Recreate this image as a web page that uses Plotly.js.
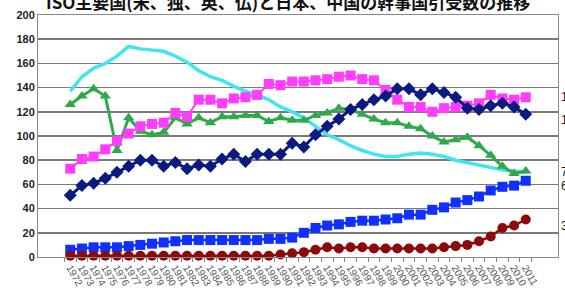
<!DOCTYPE html>
<html><head><meta charset="utf-8">
<script src="https://cdn.plot.ly/plotly-3.0.1.min.js"></script>
<style>html,body{margin:0;padding:0;background:#fff;overflow:hidden}#chart{width:565px;height:293px}</style>
</head><body><div id="chart"></div>
<script>
const chartTitle = "ISO主要国(米、独、英、仏)と日本、中国の幹事国引受数の推移";
const years = ["1972","1973","1974","1975","1976","1977","1978","1979","1980","1981",
  "1982","1983","1984","1985","1986","1987","1988","1989","1990","1991",
  "1992","1993","1994","1995","1996","1997","1998","1999","2000","2001",
  "2002","2003","2004","2005","2006","2007","2008","2009","2010","2011"];
const cyanSeries = [137,149,156,160,166,174,172,171,170,166,
  161,154,149,146,141,137,134,130,124,120,
  115,108,101,97,92,88,85,83,83,85,
  86,85,83,80,78,76,74,72,71,70];
const greenSeries = [126,133,139,133,88,115,104,101,103,115,
  110,115,111,116,116,117,117,112,115,113,
  113,117,119,123,122,118,114,111,111,108,
  106,100,95,97,99,92,84,75,69,71];
const magentaSeries = [73,81,83,89,96,102,108,110,111,119,
  116,130,130,127,131,132,134,143,142,145,
  145,146,147,149,150,147,146,138,130,124,
  124,120,123,124,125,127,134,131,130,132];
const navySeries = [51,59,61,65,70,75,80,80,75,78,
  73,76,75,81,85,79,85,85,85,94,
  91,101,108,114,122,126,130,133,139,139,
  134,139,136,132,123,122,125,127,124,118];
const blueSeries = [6,7,8,8,8,9,10,11,12,13,
  14,14,14,14,14,14,14,15,15,16,
  20,24,26,27,29,30,30,31,32,35,
  35,39,41,45,47,50,55,58,59,63];
const redSeries = [1,1,1,1,1,1,1,1,1,1,
  1,1,1,1,1,1,1,1,2,3,
  4,6,8,7,8,8,7,7,7,7,
  7,7,8,9,10,13,17,24,26,31];
const endLabels = ["132","118","72","63","31"];
const endLabelPos = [132,113,70,59,26];

const traces = [
  {x: years, y: cyanSeries, mode: 'lines', line: {color: '#3FE6F2', width: 3.5}},
  {x: years, y: greenSeries, mode: 'lines+markers', line: {color: '#2EAA4A', width: 3},
   marker: {symbol: 'triangle-up', size: 10, color: '#2EAA4A'}},
  {x: years, y: magentaSeries, mode: 'lines+markers', line: {color: '#FF3CFF', width: 2},
   marker: {symbol: 'square', size: 10, color: '#FF3CFF'}},
  {x: years, y: navySeries, mode: 'lines+markers', line: {color: '#0A1A80', width: 3},
   marker: {symbol: 'diamond', size: 10, color: '#0A1A80'}},
  {x: years, y: blueSeries, mode: 'lines+markers', line: {color: '#1030FF', width: 2.5},
   marker: {symbol: 'square', size: 10, color: '#1030FF'}},
  {x: years, y: redSeries, mode: 'lines+markers', line: {color: '#8E0A0A', width: 2.5},
   marker: {symbol: 'circle', size: 10, color: '#8E0A0A'}, cliponaxis: false}
];

const annotations = endLabels.map((t, i) => ({
  xref: 'paper', x: 1, xanchor: 'left', xshift: 1,
  yref: 'y', y: endLabelPos[i], yanchor: 'middle',
  text: t, showarrow: false,
  font: {family: 'Liberation Sans, Arial, sans-serif', size: 12, color: '#222'}
}));

const layout = {
  width: 565, height: 293,
  margin: {l: 38, r: 7, t: 15, b: 36},
  paper_bgcolor: '#fff', plot_bgcolor: '#fff',
  showlegend: false,
  title: {text: chartTitle, x: 0.51, xanchor: 'center', y: 0.99, yanchor: 'middle',
    font: {family: 'Noto Sans CJK JP, sans-serif', size: 17, color: '#111', weight: 'bold'}},
  xaxis: {type: 'category', tickson: 'boundaries', ticks: 'outside', ticklen: 4,
    tickcolor: '#888', tickangle: 60, showgrid: false, dtick: 1, tickmode: 'linear',
    showline: true, linecolor: '#888', linewidth: 1, mirror: true,
    tickfont: {family: 'Liberation Sans, Arial, sans-serif', size: 10, color: '#555'}},
  yaxis: {range: [0, 200], dtick: 20, tick0: 0, showgrid: true,
    gridcolor: '#7a7a7a', gridwidth: 1.5, zeroline: false,
    showline: true, linecolor: '#888', linewidth: 1, mirror: true,
    ticks: '', tickfont: {family: 'Liberation Sans Narrow, Liberation Sans, Arial, sans-serif', size: 11, color: '#222', weight: 'bold'}},
  annotations: annotations
};

Plotly.newPlot('chart', traces, layout, {displayModeBar: false, staticPlot: true});
</script>
</body></html>
